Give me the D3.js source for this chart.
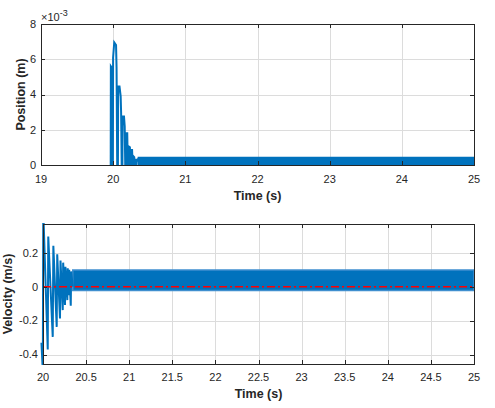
<!DOCTYPE html>
<html>
<head>
<meta charset="utf-8">
<script src="https://cdn.jsdelivr.net/npm/d3@7"></script>
<style>
  body { margin: 0; background: #fff; }
  svg { display: block; font-family: Arial, "Liberation Sans", Helvetica, sans-serif; }
  .grid line { stroke: #dcdcdc; stroke-width: 1; }
  .tick-label { font-size: 11px; fill: #262626; }
  .axis-title { font-size: 12.5px; font-weight: bold; fill: #262626; }
</style>
</head>
<body>
<div id="chart"></div>
<script>
// ---- data ----
const posXTicks = [19, 20, 21, 22, 23, 24, 25];
const posYTicks = [0, 0.002, 0.004, 0.006, 0.008];
const velXTicks = [20, 20.5, 21, 21.5, 22, 22.5, 23, 23.5, 24, 24.5, 25];
const velYTicks = [-0.4, -0.2, 0, 0.2];

// position transient (s, m)
const posTime = [19.966, 19.968, 19.984, 19.986, 19.996, 19.999, 20.015, 20.040, 20.047,
  20.056, 20.066, 20.069, 20.088, 20.104, 20.110, 20.118, 20.128, 20.131, 20.150,
  20.160, 20.167, 20.176, 20.179, 20.195, 20.203, 20.212, 20.215, 20.232, 20.238,
  20.246, 20.249, 20.262, 20.270, 20.276, 20.280, 20.292, 20.298, 20.305, 20.318,
  20.322, 20.330, 20.340, 20.350];
const posValue = [0, 0.0056, 0.0055, 0, 0, 0.0061, 0.00695, 0.0068, 0.0055,
  0, 0, 0.00445, 0.00445, 0.0039, 0.0030, 0, 0, 0.00275, 0.00275,
  0.0022, 0, 0, 0.0018, 0.0018, 0, 0, 0.00105, 0.0010, 0,
  0, 0.00085, 0.00085, 0, 0, 0.0005, 0.00045, 0, 0.0003, 0.0003,
  0, 0.00035, 0.0002, 0.0004];
// position steady-state chatter band
const posBandTime = [20.35, 25];
const posBandLow = [0, 0];
const posBandHigh = [0.00042, 0.00042];

// velocity transient (s, m/s)
const velTime = [19.982, 19.998, 20.003, 20.055, 20.061, 20.113, 20.120, 20.159, 20.165, 20.197,
  20.203, 20.229, 20.234, 20.255, 20.260, 20.282, 20.287, 20.300, 20.304, 20.322,
  20.327, 20.345];
const velValue = [-0.33, -0.50, 0.45, -0.37, 0.296, -0.296, 0.241, -0.237, 0.192, -0.187,
  0.154, -0.138, 0.142, -0.108, 0.118, -0.079, 0.109, -0.05, 0.10, -0.112,
  0.09, 0.0];
// velocity steady-state chatter band
const velBandTime = [20.345, 25];
const velBandLow = [-0.022, -0.022];
const velBandHigh = [0.098, 0.098];

// zero reference line
const refTime = [20, 25];
const refValue = [0, 0];

const width = 495, height = 408;
const lineColor = '#0072BD';
const axisColor = '#262626';

const svg = d3.select('#chart').append('svg')
  .attr('width', width)
  .attr('height', height);
svg.append('rect').attr('width', width).attr('height', height).attr('fill', '#fff');

const zip = (xs, ys) => xs.map((x, i) => [x, ys[i]]);

function drawPanel(opts) {
  const { id, box, xDomain, yDomain, xTicks, yTicks, yFormat, yTitle, yTitleX, clipLeft } = opts;
  const x = d3.scaleLinear().domain(xDomain).range([box.left, box.right]);
  const y = d3.scaleLinear().domain(yDomain).range([box.bottom, box.top]);
  const g = svg.append('g').attr('class', 'panel-' + id);

  // grid
  const grid = g.append('g').attr('class', 'grid');
  grid.selectAll('.gx').data(xTicks).enter().append('line')
    .attr('x1', d => Math.round(x(d)) + 0.5).attr('x2', d => Math.round(x(d)) + 0.5)
    .attr('y1', box.top).attr('y2', box.bottom);
  grid.selectAll('.gy').data(yTicks).enter().append('line')
    .attr('x1', box.left).attr('x2', box.right)
    .attr('y1', d => Math.round(y(d)) + 0.5).attr('y2', d => Math.round(y(d)) + 0.5);

  // clip to the axes box (MATLAB lets the line width spill a little)
  g.append('clipPath').attr('id', 'clip-' + id).append('rect')
    .attr('x', box.left - clipLeft).attr('y', box.top - 1)
    .attr('width', box.right - box.left + clipLeft + 1)
    .attr('height', box.bottom - box.top + 2);
  const plot = g.append('g').attr('clip-path', 'url(#clip-' + id + ')');

  return { x, y, g, plot, box, xTicks, yTicks, yFormat, yTitle, yTitleX };
}

function finishPanel(p, xTitleY, xLabelY) {
  const { x, y, g, box, xTicks, yTicks, yFormat, yTitle, yTitleX } = p;
  const frame = g.append('g');
  frame.append('rect')
    .attr('x', box.left + 0.5).attr('y', box.top + 0.5)
    .attr('width', box.right - box.left).attr('height', box.bottom - box.top)
    .attr('fill', 'none').attr('stroke', axisColor).attr('stroke-width', 1);

  const tickLen = 4;
  xTicks.forEach(t => {
    const px = Math.round(x(t)) + 0.5;
    frame.append('line').attr('x1', px).attr('x2', px)
      .attr('y1', box.bottom).attr('y2', box.bottom - tickLen).attr('stroke', axisColor);
    frame.append('line').attr('x1', px).attr('x2', px)
      .attr('y1', box.top).attr('y2', box.top + tickLen).attr('stroke', axisColor);
  });
  yTicks.forEach(t => {
    const py = Math.round(y(t)) + 0.5;
    frame.append('line').attr('x1', box.left).attr('x2', box.left + tickLen)
      .attr('y1', py).attr('y2', py).attr('stroke', axisColor);
    frame.append('line').attr('x1', box.right).attr('x2', box.right - tickLen)
      .attr('y1', py).attr('y2', py).attr('stroke', axisColor);
  });

  g.selectAll('.xl').data(xTicks).enter().append('text')
    .attr('class', 'tick-label')
    .attr('x', d => x(d)).attr('y', xLabelY)
    .attr('text-anchor', 'middle')
    .text(d => d);
  g.selectAll('.yl').data(yTicks).enter().append('text')
    .attr('class', 'tick-label')
    .attr('x', box.left - 5).attr('y', d => y(d))
    .attr('dy', '0.35em')
    .attr('text-anchor', 'end')
    .text(yFormat);

  g.append('text').attr('class', 'axis-title')
    .attr('x', (box.left + box.right) / 2).attr('y', xTitleY)
    .attr('text-anchor', 'middle')
    .text('Time (s)');
  g.append('text').attr('class', 'axis-title')
    .attr('transform', `translate(${yTitleX},${(box.top + box.bottom) / 2}) rotate(-90)`)
    .attr('text-anchor', 'middle')
    .text(yTitle);
}

// ---- top: position ----
const posPanel = drawPanel({
  id: 'pos',
  box: { left: 41, right: 474, top: 24, bottom: 165 },
  xDomain: [19, 25], yDomain: [0, 0.008],
  xTicks: posXTicks, yTicks: posYTicks,
  yFormat: d => Math.round(d * 1000),
  yTitle: 'Position (m)', yTitleX: 25, clipLeft: 1
});

posPanel.plot.append('path')
  .datum(posBandTime.map((t, i) => ({ t, lo: posBandLow[i], hi: posBandHigh[i] })))
  .attr('fill', lineColor).attr('stroke', lineColor).attr('stroke-width', 1.5)
  .attr('d', d3.area().x(d => posPanel.x(d.t)).y0(d => posPanel.y(d.lo)).y1(d => posPanel.y(d.hi)));
posPanel.plot.append('path')
  .datum(zip(posTime, posValue))
  .attr('fill', 'none').attr('stroke', lineColor).attr('stroke-width', 2)
  .attr('stroke-linejoin', 'miter')
  .attr('d', d3.line().x(d => posPanel.x(d[0])).y(d => posPanel.y(d[1])));

finishPanel(posPanel, 200, 183);

// exponent label
const expo = posPanel.g.append('text').attr('class', 'tick-label').attr('x', 41).attr('y', 20.5);
expo.append('tspan').text('\u00d710');
expo.append('tspan').attr('dy', -5).attr('font-size', '9px').text('-3');

// ---- bottom: velocity ----
const velPanel = drawPanel({
  id: 'vel',
  box: { left: 43, right: 474, top: 224, bottom: 364 },
  xDomain: [20, 25], yDomain: [-0.456, 0.370],
  xTicks: velXTicks, yTicks: velYTicks,
  yFormat: d => d,
  yTitle: 'Velocity (m/s)', yTitleX: 12, clipLeft: 3
});

velPanel.plot.append('path')
  .datum(velBandTime.map((t, i) => ({ t, lo: velBandLow[i], hi: velBandHigh[i] })))
  .attr('fill', lineColor).attr('stroke', '#3f8fcf').attr('stroke-width', 1.5)
  .attr('d', d3.area().x(d => velPanel.x(d.t)).y0(d => velPanel.y(d.lo)).y1(d => velPanel.y(d.hi)));
velPanel.plot.append('path')
  .datum(zip(velTime, velValue))
  .attr('fill', 'none').attr('stroke', lineColor).attr('stroke-width', 2)
  .attr('d', d3.line().x(d => velPanel.x(d[0])).y(d => velPanel.y(d[1])));
velPanel.plot.append('path')
  .datum(zip(refTime, refValue))
  .attr('fill', 'none').attr('stroke', '#ff0000').attr('stroke-width', 1.5)
  .attr('stroke-dasharray', '8,3,2,3')
  .attr('d', d3.line().x(d => velPanel.x(d[0])).y(d => velPanel.y(d[1])));

finishPanel(velPanel, 398, 381);
</script>
</body>
</html>
